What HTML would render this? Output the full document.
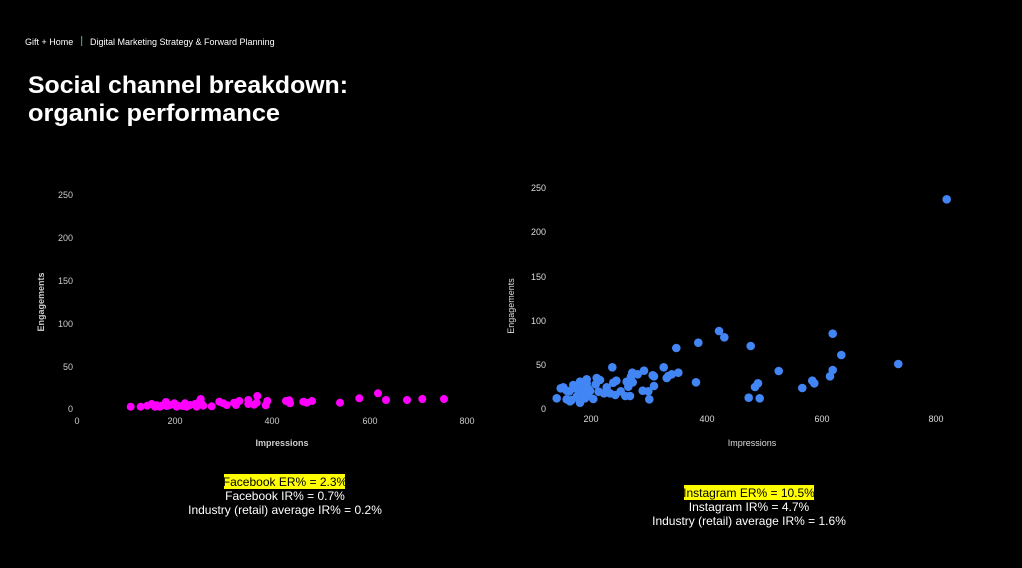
<!DOCTYPE html>
<html><head><meta charset="utf-8"><style>
html,body{margin:0;padding:0;background:#000;}
svg{display:block;font-family:"Liberation Sans",sans-serif;}
</style></head><body>
<svg width="1022" height="568" viewBox="0 0 1022 568" xmlns="http://www.w3.org/2000/svg">
<rect width="1022" height="568" fill="#000"/>
<text x="25" y="45" font-size="9" fill="#fff">Gift + Home</text>
<rect x="81" y="36" width="1.2" height="10" fill="#2a9d8f"/>
<text x="90" y="45" font-size="9" fill="#fff">Digital Marketing Strategy &amp; Forward Planning</text>
<text x="28" y="93" font-size="24" font-weight="bold" fill="#fff" textLength="320" lengthAdjust="spacingAndGlyphs">Social channel breakdown:</text>
<text x="28" y="121" font-size="24" font-weight="bold" fill="#fff" textLength="252" lengthAdjust="spacingAndGlyphs">organic performance</text>

<g font-size="9" fill="#ccc" text-anchor="end">
<text x="73" y="198">250</text><text x="73" y="241">200</text><text x="73" y="284">150</text>
<text x="73" y="327">100</text><text x="73" y="370">50</text><text x="73" y="412">0</text>
</g>
<g font-size="9" fill="#ccc" text-anchor="middle">
<text x="77" y="424">0</text><text x="175" y="424">200</text><text x="272" y="424">400</text>
<text x="370" y="424">600</text><text x="467" y="424">800</text>
</g>
<text x="282" y="446" font-size="9" font-weight="bold" fill="#ccc" text-anchor="middle">Impressions</text>
<text transform="translate(44,302) rotate(-90)" font-size="9" font-weight="bold" fill="#ccc" text-anchor="middle">Engagements</text>

<g fill="#ff00ff" id="fb"></g>

<g font-size="9" fill="#ddd" text-anchor="end">
<text x="546" y="191">250</text><text x="546" y="235">200</text><text x="546" y="280">150</text>
<text x="546" y="324">100</text><text x="546" y="368">50</text><text x="546" y="412">0</text>
</g>
<g font-size="9" fill="#ddd" text-anchor="middle">
<text x="591" y="422">200</text><text x="707" y="422">400</text>
<text x="822" y="422">600</text><text x="936" y="422">800</text>
</g>
<text x="752" y="446" font-size="9" fill="#ddd" text-anchor="middle">Impressions</text>
<text transform="translate(514,306) rotate(-90)" font-size="9" fill="#ddd" text-anchor="middle">Engagements</text>

<g fill="#4285f4" id="ig"></g>

<rect x="224" y="474" width="121" height="15" fill="#ffff00"/>
<g font-size="12" text-anchor="middle">
<text x="285" y="486" fill="#000">Facebook ER% = 2.3%</text>
<text x="285" y="500" fill="#fff">Facebook IR% = 0.7%</text>
<text x="285" y="514" fill="#fff">Industry (retail) average IR% = 0.2%</text>
</g>
<rect x="684" y="485" width="130" height="15" fill="#ffff00"/>
<g font-size="12" text-anchor="middle">
<text x="749" y="497" fill="#000">Instagram ER% = 10.5%</text>
<text x="749" y="511" fill="#fff">Instagram IR% = 4.7%</text>
<text x="749" y="525" fill="#fff">Industry (retail) average IR% = 1.6%</text>
</g>

<g fill="#ff00ff">
<circle cx="130.7" cy="406.7" r="4"/><circle cx="140.7" cy="406.7" r="4"/><circle cx="147.3" cy="405.7" r="4"/>
<circle cx="151.7" cy="404" r="4"/><circle cx="156.7" cy="405.3" r="4"/><circle cx="161.7" cy="405.7" r="4"/>
<circle cx="166" cy="402" r="4"/><circle cx="166.7" cy="406" r="4"/><circle cx="170" cy="405" r="4"/>
<circle cx="174.3" cy="403.3" r="4"/><circle cx="178.3" cy="405.7" r="4"/><circle cx="185" cy="403.3" r="4"/>
<circle cx="190" cy="405" r="4"/><circle cx="195" cy="404" r="4"/><circle cx="198.3" cy="402.7" r="4"/>
<circle cx="200.7" cy="399" r="4"/><circle cx="201.7" cy="403.7" r="4"/><circle cx="196.7" cy="406.7" r="4"/>
<circle cx="211.7" cy="406.3" r="4"/><circle cx="219.3" cy="401.7" r="4"/><circle cx="223.3" cy="403.3" r="4"/>
<circle cx="234" cy="402.7" r="4"/><circle cx="239.3" cy="401" r="4"/><circle cx="236" cy="405" r="4"/>
<circle cx="248.3" cy="400" r="4"/><circle cx="248.3" cy="404" r="4"/><circle cx="257.3" cy="396" r="4"/>
<circle cx="256.7" cy="402.7" r="4"/><circle cx="254" cy="404.7" r="4"/><circle cx="267.3" cy="401" r="4"/>
<circle cx="265.7" cy="405.3" r="4"/><circle cx="286" cy="401" r="4"/><circle cx="289.3" cy="400.3" r="4"/>
<circle cx="290" cy="403.3" r="4"/><circle cx="303.3" cy="401.7" r="4"/><circle cx="306.7" cy="402.7" r="4"/>
<circle cx="312" cy="401" r="4"/><circle cx="340" cy="402.7" r="4"/><circle cx="359.3" cy="398.3" r="4"/>
<circle cx="378" cy="393.3" r="4"/><circle cx="386" cy="400" r="4"/><circle cx="407" cy="400" r="4"/>
<circle cx="422.3" cy="399" r="4"/><circle cx="444" cy="399" r="4"/><circle cx="176.7" cy="406.7" r="4"/>
<circle cx="186.7" cy="406.7" r="4"/><circle cx="160" cy="406.7" r="4"/><circle cx="155" cy="406.7" r="4"/>
<circle cx="182.7" cy="406" r="4"/><circle cx="203.3" cy="405.7" r="4"/><circle cx="226.7" cy="405" r="4"/>
</g>
<g fill="#4285f4">
<circle cx="946.7" cy="199.3" r="4.3"/><circle cx="898.3" cy="364" r="4.3"/><circle cx="841.3" cy="355" r="4.3"/>
<circle cx="832.7" cy="333.7" r="4.3"/><circle cx="832.7" cy="370" r="4.3"/><circle cx="830" cy="376.3" r="4.3"/>
<circle cx="812.3" cy="380.7" r="4.3"/><circle cx="814.3" cy="383.3" r="4.3"/><circle cx="802.3" cy="388" r="4.3"/>
<circle cx="778.7" cy="371" r="4.3"/><circle cx="758" cy="383.3" r="4.3"/><circle cx="755" cy="387" r="4.3"/>
<circle cx="750.7" cy="346" r="4.3"/><circle cx="748.7" cy="397.7" r="4.3"/><circle cx="759.7" cy="398.3" r="4.3"/>
<circle cx="724.3" cy="337.3" r="4.3"/><circle cx="719" cy="331" r="4.3"/><circle cx="698.3" cy="342.7" r="4.3"/>
<circle cx="696" cy="382.3" r="4.3"/><circle cx="676.3" cy="348" r="4.3"/><circle cx="678.3" cy="372.7" r="4.3"/>
<circle cx="671.7" cy="374.3" r="4.3"/><circle cx="666.7" cy="378" r="4.3"/><circle cx="668.3" cy="376" r="4.3"/>
<circle cx="663.7" cy="367.3" r="4.3"/><circle cx="654" cy="376.3" r="4.3"/><circle cx="652.7" cy="375.3" r="4.3"/>
<circle cx="654" cy="386" r="4.3"/><circle cx="649.3" cy="399.3" r="4.3"/><circle cx="648.3" cy="391.3" r="4.3"/>
<circle cx="644" cy="370.7" r="4.3"/><circle cx="642.7" cy="390.7" r="4.3"/><circle cx="637.7" cy="374.3" r="4.3"/>
<circle cx="632.3" cy="372.7" r="4.3"/><circle cx="631" cy="376.7" r="4.3"/><circle cx="632.7" cy="382.3" r="4.3"/>
<circle cx="628.3" cy="386.7" r="4.3"/><circle cx="630" cy="396" r="4.3"/><circle cx="626.7" cy="381.7" r="4.3"/>
<circle cx="625.3" cy="396" r="4.3"/><circle cx="620.7" cy="391.3" r="4.3"/><circle cx="616.3" cy="380.7" r="4.3"/>
<circle cx="613.3" cy="382.7" r="4.3"/><circle cx="612.3" cy="367.3" r="4.3"/><circle cx="615.3" cy="395" r="4.3"/>
<circle cx="610" cy="393.3" r="4.3"/><circle cx="606.7" cy="387.3" r="4.3"/><circle cx="604" cy="393.3" r="4.3"/>
<circle cx="600" cy="380" r="4.3"/><circle cx="596.7" cy="378" r="4.3"/><circle cx="595.7" cy="384.3" r="4.3"/>
<circle cx="598.7" cy="391.7" r="4.3"/><circle cx="593.3" cy="399" r="4.3"/><circle cx="590" cy="391" r="4.3"/>
<circle cx="588.3" cy="388.7" r="4.3"/><circle cx="586.7" cy="383.3" r="4.3"/><circle cx="585" cy="386" r="4.3"/>
<circle cx="583.3" cy="390" r="4.3"/><circle cx="580" cy="381.7" r="4.3"/><circle cx="578.3" cy="390" r="4.3"/>
<circle cx="580" cy="393.3" r="4.3"/><circle cx="576.7" cy="396.7" r="4.3"/><circle cx="585" cy="398.3" r="4.3"/>
<circle cx="571.7" cy="400" r="4.3"/><circle cx="566.7" cy="390.7" r="4.3"/><circle cx="570" cy="401.3" r="4.3"/>
<circle cx="580" cy="402.7" r="4.3"/><circle cx="560.7" cy="388.3" r="4.3"/><circle cx="566.7" cy="399.3" r="4.3"/>
<circle cx="563.3" cy="387.3" r="4.3"/><circle cx="556.7" cy="398.3" r="4.3"/><circle cx="569.3" cy="391.3" r="4.3"/>
<circle cx="573.3" cy="385" r="4.3"/><circle cx="586.7" cy="379.3" r="4.3"/><circle cx="581.7" cy="383.3" r="4.3"/>
<circle cx="575" cy="388.3" r="4.3"/><circle cx="588.3" cy="394" r="4.3"/>
</g>
</svg>
</body></html>
